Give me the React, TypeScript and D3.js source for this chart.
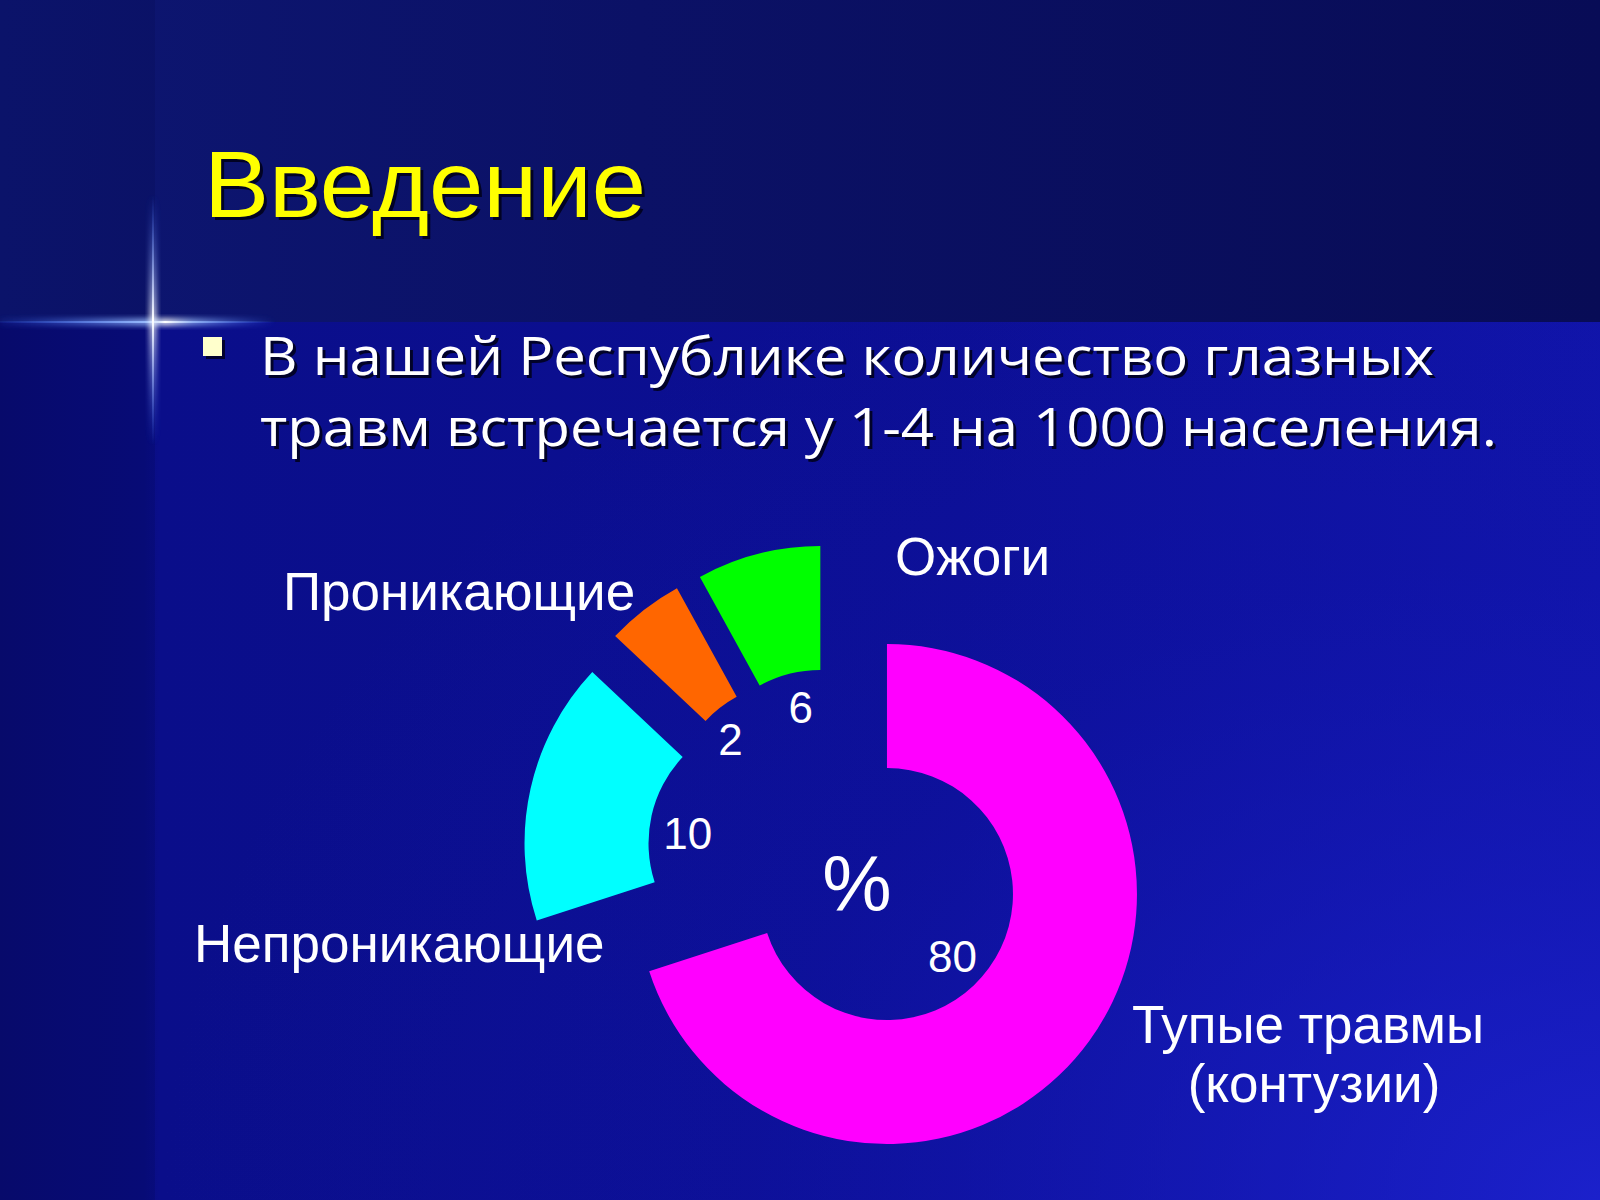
import React from "react";
import * as d3 from "d3";

// ---- data ----
const categoryLines: string[][] = [
  ["Тупые травмы", "(контузии)"],
  ["Непроникающие"],
  ["Проникающие"],
  ["Ожоги"],
];
// angular share of each ring segment as drawn
const sliceShares: number[] = [70, 17, 5, 8];
// numbers printed on the segments
const dataLabels: string[] = ["80", "10", "2", "6"];
const sliceColors: string[] = ["#FF00FF", "#00FFFF", "#FF6600", "#00FF00"];

const titleText = "Введение";
const bulletLines: string[] = [
  "В нашей Республике количество глазных",
  "травм встречается у 1-4 на 1000 населения.",
];
const centerText = "%";

// ---- layout ----
const W = 1600;
const H = 1200;
const CX = 836;
const CY = 857;
const R_OUT = 250;
const R_IN = 126;
const EXPLODE = 63;
const LABEL_R = 91;
// small placement nudges of the printed numbers (px)
const labelNudge: [number, number][] = [
  [-8, 9],
  [2, 10],
  [-11, 4],
  [3, -1],
];

const catLayout = [
  { x: 1308, y: 1043, anchor: "middle", dy: 59, dx2: 6 },
  { x: 194, y: 962, anchor: "start", dy: 0, dx2: 0 },
  { x: 283, y: 610, anchor: "start", dy: 0, dx2: 0 },
  { x: 895, y: 575, anchor: "start", dy: 0, dx2: 0 },
];

const ARIAL = "'Liberation Sans', Arial, sans-serif";

export default function App() {
  const pie = d3
    .pie<number>()
    .sort(null)
    .value((d) => d)
    .startAngle(0)
    .endAngle(2 * Math.PI);
  const arcs = pie(sliceShares);
  const arc = d3
    .arc<d3.PieArcDatum<number>>()
    .innerRadius(R_IN)
    .outerRadius(R_OUT);

  return (
    <svg
      width={W}
      height={H}
      viewBox={`0 0 ${W} ${H}`}
      style={{ position: "absolute", left: 0, top: 0, display: "block" }}
    >
      <defs>
        <linearGradient id="bgLow" x1="0" y1="0" x2="1" y2="0">
          <stop offset="0" stopColor="#080c74" />
          <stop offset="0.09" stopColor="#090d80" />
          <stop offset="0.1" stopColor="#0a0e8a" />
          <stop offset="0.6" stopColor="#0c0f94" />
          <stop offset="1" stopColor="#1014a8" />
        </linearGradient>
        <radialGradient id="bgGlow" cx="1" cy="1" r="0.9">
          <stop offset="0" stopColor="#1e24d4" stopOpacity="0.8" />
          <stop offset="0.6" stopColor="#1418b8" stopOpacity="0.2" />
          <stop offset="1" stopColor="#1418b8" stopOpacity="0" />
        </radialGradient>
        <linearGradient id="bgTop" x1="0" y1="0" x2="1" y2="0">
          <stop offset="0" stopColor="#0d1672" />
          <stop offset="0.4" stopColor="#0b1166" />
          <stop offset="1" stopColor="#080c56" />
        </linearGradient>
        <linearGradient id="flareH" x1="0" y1="0" x2="1" y2="0">
          <stop offset="0" stopColor="#3a6cff" stopOpacity="0.1" />
          <stop offset="0.55" stopColor="#9ec0ff" stopOpacity="0.95" />
          <stop offset="0.6" stopColor="#ffffff" stopOpacity="1" />
          <stop offset="0.7" stopColor="#9ec0ff" stopOpacity="0.8" />
          <stop offset="1" stopColor="#3a6cff" stopOpacity="0" />
        </linearGradient>
        <linearGradient id="flareV" x1="0" y1="0" x2="0" y2="1">
          <stop offset="0" stopColor="#3a6cff" stopOpacity="0" />
          <stop offset="0.5" stopColor="#ffffff" stopOpacity="1" />
          <stop offset="1" stopColor="#3a6cff" stopOpacity="0" />
        </linearGradient>
        <filter id="glow" x="-50%" y="-50%" width="200%" height="200%">
          <feGaussianBlur stdDeviation="2.5" />
        </filter>
      </defs>

      {/* background */}
      <rect x={0} y={0} width={W} height={H} fill="url(#bgLow)" />
      <rect x={0} y={0} width={W} height={H} fill="url(#bgGlow)" />
      <rect x={0} y={0} width={W} height={322} fill="url(#bgTop)" />
      <rect x={0} y={0} width={155} height={H} fill="#000030" opacity={0.12} />

      {/* flare */}
      <g>
        <rect x={0} y={318} width={275} height={8} fill="url(#flareH)" filter="url(#glow)" opacity={0.8} />
        <rect x={0} y={321} width={275} height={2} fill="url(#flareH)" />
        <rect x={149} y={195} width={8} height={250} fill="url(#flareV)" filter="url(#glow)" opacity={0.7} />
        <rect x={152} y={195} width={2} height={250} fill="url(#flareV)" />
      </g>

      {/* title */}
      <g fontFamily={ARIAL} fontSize={95}>
        <text x={207} y={220} fill="#000018" opacity={0.85} textLength={442} lengthAdjust="spacingAndGlyphs">
          {titleText}
        </text>
        <text x={204} y={217} fill="#FFFF00" textLength={442} lengthAdjust="spacingAndGlyphs">
          {titleText}
        </text>
      </g>

      {/* bullet */}
      <rect x={206} y={340} width={19} height={19} fill="#000018" opacity={0.8} />
      <rect x={203} y={337} width={19} height={19} fill="#FFFFCC" />
      <g fontFamily="'Open Sans', 'Noto Sans', sans-serif" fontSize={53}>
        {bulletLines.map((line, i) => (
          <g key={i}>
            <text
              x={263}
              y={378 + i * 71}
              fill="#000018"
              opacity={0.85}
              textLength={i === 0 ? 1174 : 1237}
              lengthAdjust="spacingAndGlyphs"
            >
              {line}
            </text>
            <text
              x={260}
              y={375 + i * 71}
              fill="#FFFFFF"
              textLength={i === 0 ? 1174 : 1237}
              lengthAdjust="spacingAndGlyphs"
            >
              {line}
            </text>
          </g>
        ))}
      </g>

      {/* donut */}
      <g>
        {arcs.map((a, i) => {
          const mid = (a.startAngle + a.endAngle) / 2;
          const ox = CX + EXPLODE * Math.sin(mid);
          const oy = CY - EXPLODE * Math.cos(mid);
          return (
            <path
              key={i}
              d={arc(a) || ""}
              transform={`translate(${ox},${oy})`}
              fill={sliceColors[i]}
            />
          );
        })}
        {arcs.map((a, i) => {
          const mid = (a.startAngle + a.endAngle) / 2;
          const ox = CX + (EXPLODE + LABEL_R) * Math.sin(mid) + labelNudge[i][0];
          const oy = CY - (EXPLODE + LABEL_R) * Math.cos(mid) + labelNudge[i][1];
          return (
            <text
              key={i}
              x={ox}
              y={oy}
              dy="0.36em"
              textAnchor="middle"
              fontFamily={ARIAL}
              fontSize={44}
              fill="#FFFFFF"
            >
              {dataLabels[i]}
            </text>
          );
        })}
        <text
          x={CX + 21}
          y={CY + 26}
          dy="0.36em"
          textAnchor="middle"
          fontFamily={ARIAL}
          fontSize={78}
          fill="#FFFFFF"
        >
          {centerText}
        </text>
      </g>

      {/* category labels */}
      <g fontFamily={ARIAL} fontSize={53} fill="#FFFFFF">
        {categoryLines.map((lines, i) => (
          <text key={i} x={catLayout[i].x} y={catLayout[i].y} textAnchor={catLayout[i].anchor}>
            {lines.map((ln, j) => (
              <tspan
                key={j}
                x={catLayout[i].x + (j === 0 ? 0 : catLayout[i].dx2)}
                dy={j === 0 ? 0 : catLayout[i].dy}
              >
                {ln}
              </tspan>
            ))}
          </text>
        ))}
      </g>
    </svg>
  );
}
